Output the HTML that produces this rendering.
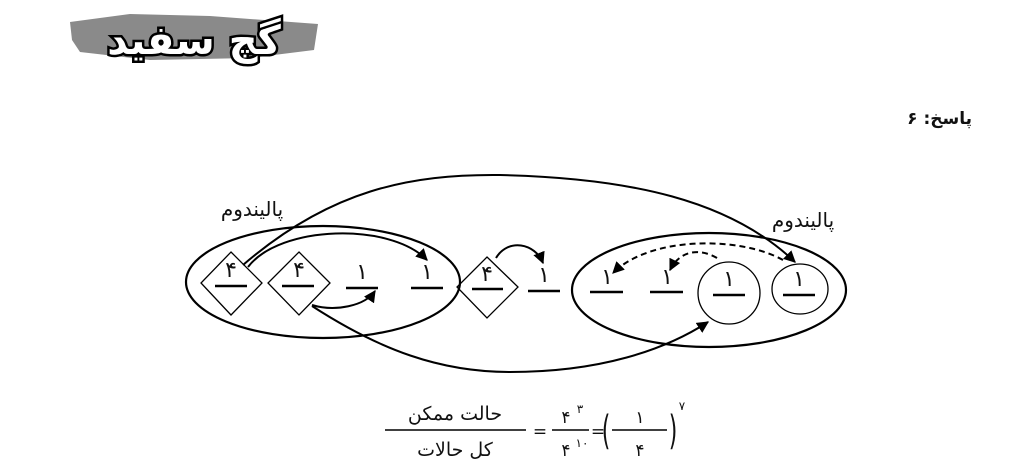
<!DOCTYPE html>
<html><head><meta charset="utf-8"><style>
html,body{margin:0;padding:0;background:#fff;width:1034px;height:472px;overflow:hidden}
svg{display:block}
text{font-family:"DejaVu Sans","Liberation Sans",sans-serif;fill:#111}
</style></head><body>
<svg width="1034" height="472" viewBox="0 0 1034 472">
<defs>
<marker id="ah" viewBox="0 0 10 10" refX="9" refY="5" markerWidth="6" markerHeight="6" orient="auto-start-reverse"><path d="M0,0 L10,5 L0,10 z" fill="#000"/></marker>
</defs>
<g>
<path d="M70,22 L130,14 L210,16 L318,24 L314,50 L250,58 L150,60 L80,52 L72,40 Z" fill="#8a8a8a"/>
<text x="194" y="54" text-anchor="middle" font-size="40" font-weight="bold" style="fill:#fff;stroke:#000;stroke-width:5;paint-order:stroke" direction="rtl">گچ سفید</text>
</g>
<text x="972" y="124" text-anchor="start" font-size="17" font-weight="bold" direction="rtl">پاسخ: ۶</text>
<g fill="none" stroke="#000" stroke-width="2.2">
<ellipse cx="323" cy="282" rx="137" ry="56"/>
<ellipse cx="709" cy="290" rx="137" ry="57"/>
</g>
<g fill="none" stroke="#000" stroke-width="1.3">
<path d="M231,252 L262,283 L231,315 L201,283 Z"/>
<path d="M299,252 L330,283 L299,315 L268,283 Z"/>
<path d="M487,257 L518,287 L487,318 L457,287 Z"/>
<ellipse cx="729" cy="293" rx="31" ry="31"/>
<ellipse cx="800" cy="289" rx="28" ry="25"/>
</g>
<g stroke="#000" stroke-width="2.4">
<line x1="215" y1="286" x2="247" y2="286"/><line x1="282" y1="286" x2="314" y2="286"/>
<line x1="346" y1="288" x2="378" y2="288"/><line x1="411" y1="288" x2="443" y2="288"/>
<line x1="472" y1="289" x2="503" y2="289"/><line x1="528" y1="291" x2="560" y2="291"/>
<line x1="590" y1="292" x2="623" y2="292"/><line x1="650" y1="292" x2="683" y2="292"/>
<line x1="713" y1="295" x2="745" y2="295"/><line x1="783" y1="295" x2="815" y2="295"/>
</g>
<g font-size="22" text-anchor="middle">
<text x="231" y="277">۴</text><text x="299" y="277">۴</text>
<text x="362" y="279">۱</text><text x="427" y="279">۱</text>
<text x="487" y="281">۴</text><text x="544" y="282">۱</text>
<text x="607" y="284">۱</text><text x="667" y="284">۱</text>
<text x="729" y="286">۱</text><text x="799" y="286">۱</text>
</g>
<g font-size="20" text-anchor="middle">
<text x="252" y="216" direction="rtl">پالیندوم</text>
<text x="803" y="227" direction="rtl">پالیندوم</text>
</g>
<g fill="none" stroke="#000" stroke-width="2">
<path d="M243,265 C330,190 410,174 500,175 C630,178 730,200 795,262" marker-end="url(#ah)"/>
<path d="M248,267 C280,225 390,222 427,260" marker-end="url(#ah)"/>
<path d="M312,305 C335,312 365,306 375,291" marker-end="url(#ah)"/>
<path d="M312,306 C380,350 440,372 510,372 C600,372 665,350 708,322" marker-end="url(#ah)"/>
<path d="M496,258 C508,238 535,243 543,263" marker-end="url(#ah)"/>
<path stroke-dasharray="6,4" d="M783,260 C740,236 650,236 613,273" marker-end="url(#ah)"/>
<path stroke-dasharray="6,4" d="M717,258 C700,248 680,250 670,270" marker-end="url(#ah)"/>
</g>
<g>
<line x1="385" y1="430" x2="526" y2="430" stroke="#000" stroke-width="1.5"/>
<text x="455" y="420" font-size="19" text-anchor="middle" direction="rtl">حالت ممکن</text>
<text x="455" y="456" font-size="19" text-anchor="middle" direction="rtl">کل حالات</text>
<text x="540" y="437" font-size="17" text-anchor="middle">=</text>
<line x1="552" y1="430" x2="589" y2="430" stroke="#000" stroke-width="1.5"/>
<text x="566" y="423" font-size="17" text-anchor="middle">۴</text><text x="580" y="413" font-size="12" text-anchor="middle">۳</text>
<text x="566" y="456" font-size="17" text-anchor="middle">۴</text><text x="582" y="447" font-size="12" text-anchor="middle">۱۰</text>
<text x="598" y="437" font-size="17" text-anchor="middle">=</text>
<text x="606" y="444" font-size="40" text-anchor="middle" transform="translate(606,432) scale(0.55,1) translate(-606,-432)">(</text>
<line x1="612" y1="430" x2="667" y2="430" stroke="#000" stroke-width="1.5"/>
<text x="640" y="423" font-size="17" text-anchor="middle">۱</text>
<text x="640" y="456" font-size="17" text-anchor="middle">۴</text>
<text x="673" y="444" font-size="40" text-anchor="middle" transform="translate(673,432) scale(0.55,1) translate(-673,-432)">)</text>
<text x="682" y="410" font-size="12" text-anchor="middle">۷</text>
</g>
</svg>
</body></html>
